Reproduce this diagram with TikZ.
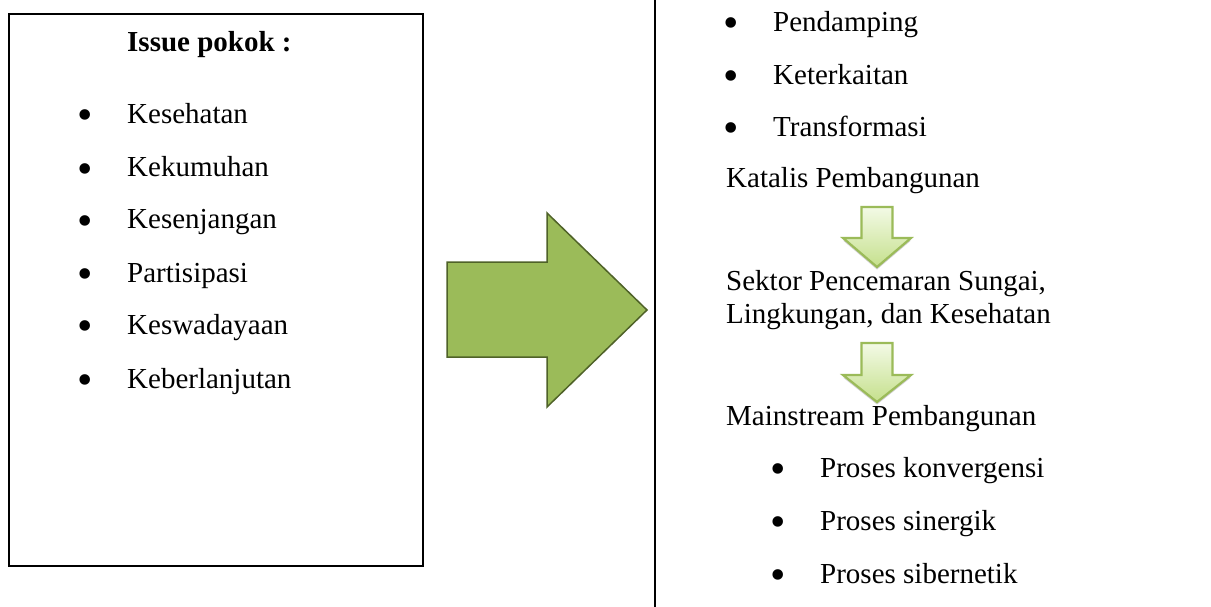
\documentclass[tikz,border=0pt]{standalone}
\usepackage{fontspec}
\setmainfont{Liberation Serif}
\usetikzlibrary{shadows}
\definecolor{olivegreen}{HTML}{9BBB59}
\definecolor{olivedark}{HTML}{4F6228}
\definecolor{paletop}{HTML}{F3FAE6}
\definecolor{palebot}{HTML}{C5E08C}
\begin{document}
\begin{tikzpicture}[x=1pt,y=-1pt,
  txt/.style={anchor=base west,inner sep=0pt,font=\fontsize{29}{34}\selectfont},
  bul/.style={anchor=base,inner sep=0pt,yshift=-6pt,font=\fontsize{44}{44}\selectfont},
  frame/.style={draw=black,line width=2.5pt},
  bigarrow/.style={fill=olivegreen,draw=olivedark,line width=1.5pt,line join=miter},
  downarrow/.style={top color=paletop,bottom color=palebot,draw=olivegreen,line width=2.2pt,line join=miter,
    drop shadow={shadow xshift=0pt,shadow yshift=-2.5pt,opacity=0.3,fill=black!60}}]
\useasboundingbox (0,0) rectangle (1211,607);
\fill[white] (0,0) rectangle (1211,607);

% left box
\draw[frame] (9,14) rectangle (423,566);
\node[txt,font=\fontsize{29}{34}\selectfont\bfseries] (title) at (127,52) {Issue pokok :};
\foreach \y/\t/\n in {124/Kesehatan/a,177/Kekumuhan/b,229/Kesenjangan/c,282/Partisipasi/d,334/Keswadayaan/e,388/Keberlanjutan/f}{
  \node[bul] (lb\n) at (85,\y) {•};
  \node[txt] (lt\n) at (127,\y) {\t};
}

% big arrow
\draw[bigarrow] (447,262) -- (547,262) -- (547,213) -- (647,310) -- (547,407) -- (547,357) -- (447,357) -- cycle;

% divider
\draw[line width=2.5pt] (655,0) -- (655,607);

% right column
\foreach \y/\t/\n in {32/Pendamping/a,85/Keterkaitan/b,137/Transformasi/c}{
  \node[bul] (rb\n) at (731,\y) {•};
  \node[txt] (rt\n) at (773,\y) {\t};
}
\node[txt] (katalis) at (726,188) {Katalis Pembangunan};
\draw[downarrow] (861.5,207) -- (892.5,207) -- (892.5,238) -- (911,238) -- (877,267) -- (843,238) -- (861.5,238) -- cycle;
\node[txt] (sektor1) at (726,290) {Sektor Pencemaran Sungai,};
\node[txt] (sektor2) at (726,323) {Lingkungan, dan Kesehatan};
\draw[downarrow] (861.5,343) -- (892.5,343) -- (892.5,375) -- (911,375) -- (877,402) -- (843,375) -- (861.5,375) -- cycle;
\node[txt] (mainstream) at (726,425) {Mainstream Pembangunan};
\foreach \y/\t/\n in {477/Proses konvergensi/a,530/Proses sinergik/b,583/Proses sibernetik/c}{
  \node[bul] (pb\n) at (778,\y) {•};
  \node[txt] (pt\n) at (820,\y) {\t};
}
\end{tikzpicture}
\end{document}
